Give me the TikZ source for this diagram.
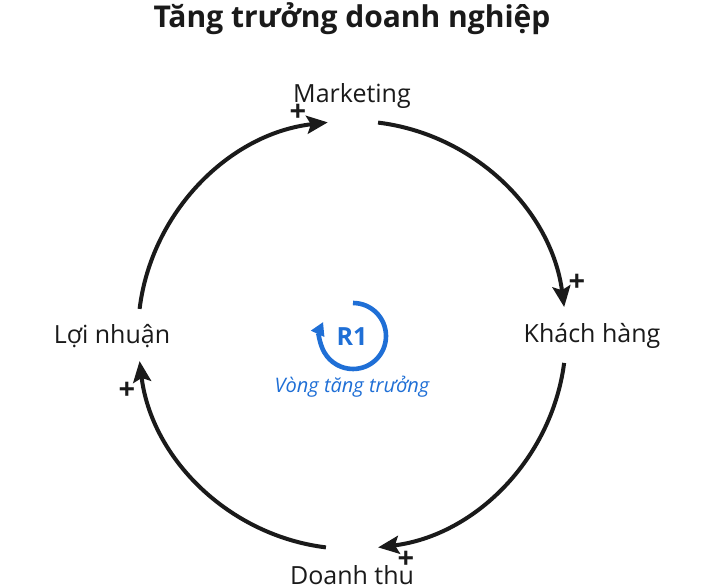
\documentclass[tikz,border=0pt]{standalone}
\usepackage{fontspec}
\setmainfont{Open Sans}
\usetikzlibrary{arrows.meta}
\definecolor{ink}{HTML}{1A1A1A}
\definecolor{loopblue}{HTML}{1F6FD6}
\begin{document}
\begin{tikzpicture}[x=1pt,y=1pt,
  lbl/.style={text=ink,font=\fontsize{25}{29}\selectfont,inner sep=1pt},
  sign/.style={text=ink,font=\bfseries\fontsize{29}{30}\selectfont,inner sep=0pt},
  link/.style={draw=ink,line width=4pt,-{Stealth[length=21pt,width=18pt,inset=4pt]},looseness=0.95}]
\useasboundingbox (0,0) rectangle (705,588);
\fill[white] (0,0) rectangle (705,588);
\coordinate (c) at (352,253);
\node[text=ink,font=\bfseries\fontsize{30}{34}\selectfont] (title) at (352,569) {Tăng trưởng doanh nghiệp};
\node[lbl] (mk) at (352,492) {Marketing};
\node[lbl] (kh) at (592,252) {Khách hàng};
\node[lbl] (dt) at (352,13) {Doanh thu};
\node[lbl] (ln) at (112,252) {Lợi nhuận};
% arc end points
\coordinate (mk-s) at ([shift={(83:214)}]c);
\coordinate (kh-e) at ([shift={(7.5:214)}]c);
\coordinate (kh-s) at ([shift={(-7.5:214)}]c);
\coordinate (dt-e) at ([shift={(-83:214)}]c);
\coordinate (dt-s) at ([shift={(-97:214)}]c);
\coordinate (ln-e) at ([shift={(187:214)}]c);
\coordinate (ln-s) at ([shift={(173:214)}]c);
\coordinate (mk-e) at ([shift={(96.5:214)}]c);
\draw[link] (mk-s) to[out=-7,in=97.5] (kh-e);
\draw[link] (kh-s) to[out=-97.5,in=7] (dt-e);
\draw[link] (dt-s) to[out=173,in=-83] (ln-e);
\draw[link] (ln-s) to[out=83,in=186.5] (mk-e);
\node[sign] (p1) at (298,475) {+};
\node[sign] (p2) at (577,305) {+};
\node[sign] (p3) at (406,28) {+};
\node[sign] (p4) at (127,197) {+};
% loop symbol
\node[text=loopblue,font=\bfseries\fontsize{25}{28}\selectfont] (r1) at (352,251) {R1};
\coordinate (lp) at (353,285);
\draw[loopblue,line width=4.6pt,-{Triangle[length=13pt,width=14pt]}] (lp) arc[start angle=90,end angle=-205,radius=33];
\node[text=loopblue,font=\itshape\fontsize{20}{23}\selectfont] (vt) at (352,201) {Vòng tăng trưởng};
\end{tikzpicture}
\end{document}
